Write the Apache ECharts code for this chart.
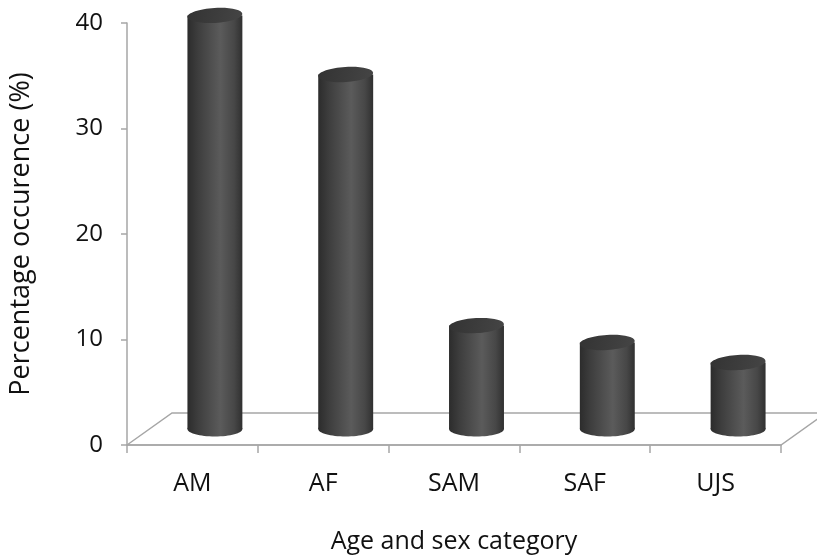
<!DOCTYPE html>
<html>
<head>
<meta charset="utf-8">
<script src="https://cdn.jsdelivr.net/npm/echarts@6/dist/echarts.min.js"></script>
<style>
  html, body { margin: 0; padding: 0; background: #fff; }
  #chart { width: 817px; height: 560px; }
</style>
</head>
<body>
<div id="chart"></div>
<script>
// data
var categories = ['AM', 'AF', 'SAM', 'SAF', 'UJS'];
var values = [39.2, 33.6, 9.8, 8.2, 6.3];
var yMin = 0, yMax = 40, yStep = 10;

// fake 3d depth of the floor
var depthX = 45, depthY = -32;
var font = 'Open Sans';
var axisGray = '#a6a6a6';

var chart = echarts.init(document.getElementById('chart'));

function bodyGradient() {
  return new echarts.graphic.LinearGradient(0, 0, 1, 0, [
    { offset: 0, color: '#2c2c2c' },
    { offset: 0.2, color: '#3e3e3e' },
    { offset: 0.6, color: '#5b5b5b' },
    { offset: 0.85, color: '#474747' },
    { offset: 1, color: '#303030' }
  ]);
}

function renderFloor(params, api) {
  var cs = params.coordSys;
  var x0 = cs.x, x1 = cs.x + cs.width, y = cs.y + cs.height;
  return {
    type: 'polyline',
    shape: {
      points: [
        [x0, y], [x0 + depthX, y + depthY],
        [x1 + depthX, y + depthY], [x1, y], [x0, y]
      ]
    },
    style: { stroke: axisGray, lineWidth: 1.5, fill: null },
    silent: true
  };
}

function renderCylinder(params, api) {
  var base = api.coord([api.value(0), 0]);
  var top = api.coord([api.value(0), api.value(1)]);
  var w = api.size([1, 0])[0] * 0.42;
  var cx = base[0] + depthX / 2;
  var by = base[1] + depthY / 2;
  var ty = top[1] + depthY / 2;
  var rx = w / 2, ry = 7.5;
  return {
    type: 'group',
    children: [
      {
        type: 'ellipse',
        shape: { cx: cx, cy: by, rx: rx, ry: ry },
        style: { fill: bodyGradient() }
      },
      {
        type: 'rect',
        shape: { x: cx - rx, y: ty, width: w, height: by - ty },
        style: { fill: bodyGradient() }
      },
      {
        type: 'ellipse',
        shape: { cx: cx, cy: ty, rx: rx, ry: ry },
        rotation: 0.06,
        originX: cx,
        originY: ty,
        style: {
          fill: new echarts.graphic.LinearGradient(0, 0, 1, 1, [
            { offset: 0, color: '#333333' },
            { offset: 1, color: '#454545' }
          ])
        }
      }
    ]
  };
}

var option = {
  backgroundColor: '#fff',
  animation: false,
  grid: { left: 126, right: 36, top: 23, bottom: 115 },
  xAxis: {
    type: 'category',
    data: categories,
    name: 'Age and sex category',
    nameLocation: 'middle',
    nameGap: 84,
    nameTextStyle: { fontFamily: font, fontSize: 25, color: '#111' },
    axisLine: { lineStyle: { color: axisGray, width: 1.5 } },
    axisTick: { show: true, length: 8, lineStyle: { color: axisGray, width: 1.5 } },
    axisLabel: { fontFamily: font, fontSize: 25, color: '#111', margin: 26 }
  },
  yAxis: {
    type: 'value',
    min: yMin,
    max: yMax,
    interval: yStep,
    name: 'Percentage occurence (%)',
    nameLocation: 'middle',
    nameGap: 92,
    nameTextStyle: { fontFamily: font, fontSize: 27, color: '#111' },
    splitLine: { show: false },
    axisLine: { show: true, lineStyle: { color: axisGray, width: 1.5 } },
    axisTick: { show: true, length: 6, lineStyle: { color: axisGray, width: 1.5 } },
    axisLabel: { fontFamily: font, fontSize: 24, color: '#111', margin: 24 }
  },
  series: [
    {
      type: 'custom',
      renderItem: renderFloor,
      data: [[0, 0]],
      z: 1,
      silent: true
    },
    {
      type: 'custom',
      renderItem: renderCylinder,
      encode: { x: 0, y: 1 },
      data: values.map(function (v, i) { return [i, v]; }),
      z: 2
    }
  ]
};

chart.setOption(option);
</script>
</body>
</html>
